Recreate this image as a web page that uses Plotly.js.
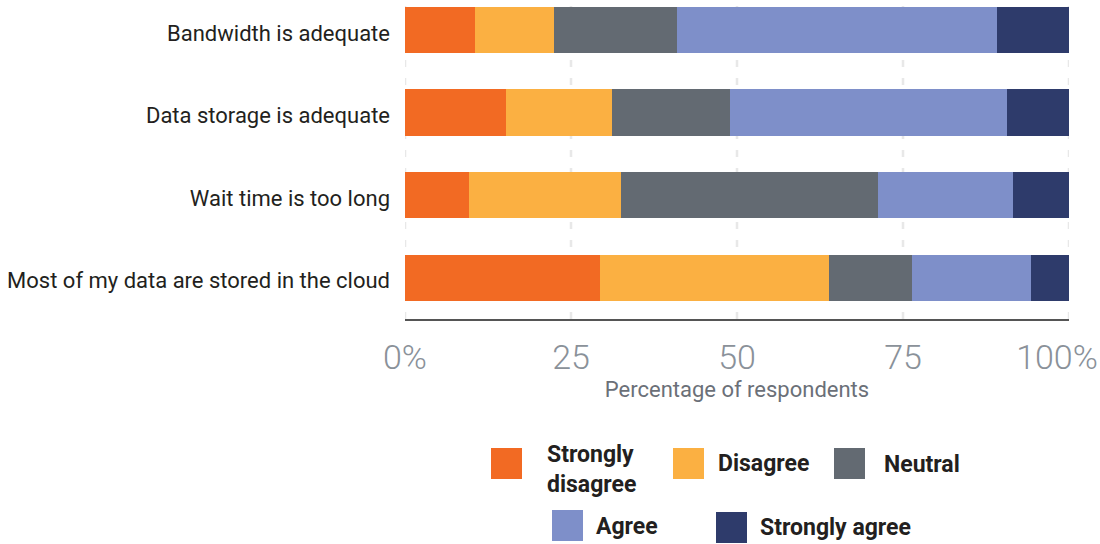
<!DOCTYPE html>
<html>
<head>
<meta charset="utf-8">
<script src="https://cdn.plot.ly/plotly-3.0.1.min.js"></script>
<style>html,body{margin:0;padding:0;background:#fff;}#chart{width:1100px;height:544px;}</style>
</head>
<body>
<div id="chart"></div>
<script>
const categories = ["Bandwidth is adequate", "Data storage is adequate", "Wait time is too long", "Most of my data are stored in the cloud"];
const seriesNames = ["Strongly disagree", "Disagree", "Neutral", "Agree", "Strongly agree"];
const legendLabels = ["Strongly<br>disagree", "Disagree", "Neutral", "Agree", "Strongly agree"];
const seriesColors = ["#F26A23", "#FBB042", "#636A72", "#7E8FC9", "#2E3B6B"];
const stronglyDisagree = [10.5, 15.2, 9.6, 29.4];
const disagree = [12.0, 16.0, 23.0, 34.5];
const neutral = [18.5, 17.8, 38.7, 12.5];
const agree = [48.2, 41.7, 20.2, 17.9];
const stronglyAgree = [10.8, 9.3, 8.5, 5.7];
const tickVals = [0, 25, 50, 75, 100];
const tickText = ["0%", "25", "50", "75", "100%"];

const seriesValues = [stronglyDisagree, disagree, neutral, agree, stronglyAgree];

const traces = seriesValues.map((vals, i) => ({
  type: "bar",
  orientation: "h",
  name: seriesNames[i],
  x: vals,
  y: categories,
  marker: {color: seriesColors[i], line: {width: 0}},
  showlegend: false,
  hoverinfo: "x+name"
}));
// empty helper trace so the overlaying axis (for the "100%" label) is drawn
traces.push({type: "scatter", mode: "markers", x: [], y: [], xaxis: "x2", yaxis: "y",
  showlegend: false, hoverinfo: "skip"});

const W = 1100, H = 544;
const ml = 405, mr = 31, mt = 0, mb = 225;
const pw = W - ml - mr, ph = H - mt - mb;
function px2x(p) { return (p - ml) / pw; }
function py2y(p) { return 1 - (p - mt) / ph; }

const shapes = [];
const annotations = [];

// dashed vertical gridlines at every tick (including 0 and 100)
tickVals.forEach(v => {
  shapes.push({type: "line", xref: "x", yref: "paper", x0: v, x1: v, y0: 0, y1: 1,
    layer: "below", line: {color: "#e8e8e8", width: 2.5, dash: "7px,11px"}});
});

// custom legend built from series names/colors
const legendPos = [
  {sx: 491, sy: 448, tx: 545, ty: 469},
  {sx: 673, sy: 448, tx: 716, ty: 463},
  {sx: 834, sy: 448, tx: 882, ty: 464},
  {sx: 552, sy: 510, tx: 594, ty: 526},
  {sx: 716, sy: 512, tx: 758, ty: 527}
];
seriesNames.forEach((n, i) => {
  const p = legendPos[i];
  shapes.push({type: "rect", xref: "paper", yref: "paper",
    x0: px2x(p.sx), x1: px2x(p.sx + 31), y0: py2y(p.sy), y1: py2y(p.sy + 31),
    fillcolor: seriesColors[i], line: {width: 0}});
  annotations.push({xref: "paper", yref: "paper", x: px2x(p.tx), y: py2y(p.ty),
    xanchor: "left", yanchor: "middle", align: "left", showarrow: false,
    text: "<b>" + legendLabels[i] + "</b>",
    font: {family: "Roboto, Arial, sans-serif", size: 23, color: "#231f20"}});
});

const tickFont = {family: "Roboto, Arial, sans-serif", size: 34, color: "#8a9199", weight: 300};
const nLast = tickVals.length - 1;

const layout = {
  width: W, height: H,
  margin: {l: ml, r: mr, t: mt, b: mb},
  paper_bgcolor: "#ffffff",
  plot_bgcolor: "#ffffff",
  barmode: "stack",
  bargap: 0.44,
  showlegend: false,
  xaxis: {
    range: [0, 100],
    tickvals: tickVals.slice(0, nLast),
    ticktext: tickText.slice(0, nLast),
    showgrid: false,
    zeroline: false,
    showline: true,
    linecolor: "#555555",
    linewidth: 2,
    ticks: "",
    ticklabelstandoff: 7,
    ticklabeloverflow: "allow",
    tickfont: tickFont,
    title: {text: "Percentage of respondents", standoff: 6,
      font: {family: "Roboto, Arial, sans-serif", size: 22, color: "#6b7078"}},
    fixedrange: true
  },
  xaxis2: {
    overlaying: "x",
    anchor: "y",
    side: "bottom",
    range: [0, 100],
    tickvals: tickVals.slice(nLast),
    ticktext: tickText.slice(nLast),
    showgrid: false,
    zeroline: false,
    showline: false,
    ticks: "",
    ticklabelstandoff: 15,
    ticklabelshift: -12,
    ticklabeloverflow: "allow",
    tickfont: tickFont,
    fixedrange: true
  },
  yaxis: {
    type: "category",
    categoryorder: "array",
    categoryarray: categories,
    range: [3.5, -0.363],
    showgrid: false,
    zeroline: false,
    showline: false,
    ticks: "",
    ticklabelstandoff: 14,
    ticklabelshift: -3,
    tickfont: {family: "Roboto, Arial, sans-serif", size: 22, color: "#231f20"},
    fixedrange: true
  },
  shapes: shapes,
  annotations: annotations
};

Plotly.newPlot("chart", traces, layout, {displayModeBar: false, staticPlot: true});
</script>
</body>
</html>
